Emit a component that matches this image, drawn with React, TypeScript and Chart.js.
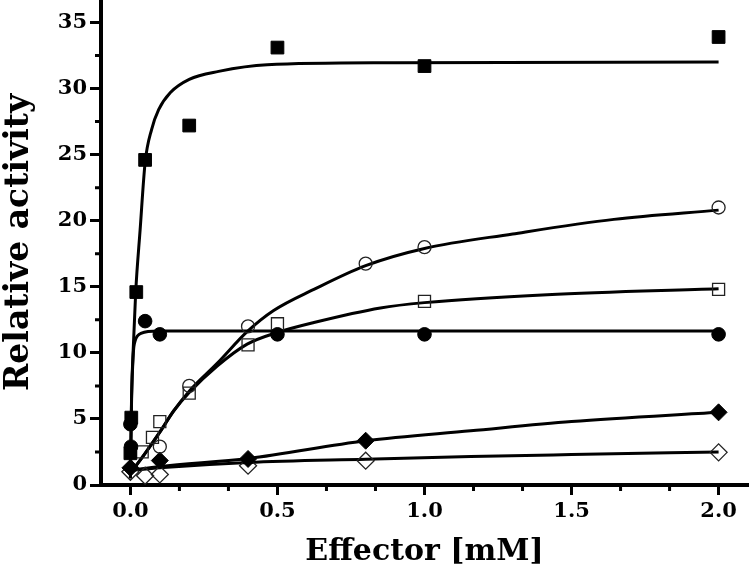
import React, { useEffect, useRef } from "react";
import { Chart, registerables } from "chart.js";

Chart.register(...registerables);

// ---- measured points ----
const sqFilledX = [0, 0.003, 0.02, 0.05, 0.2, 0.5, 1.0, 2.0];
const sqFilledY = [2.4, 5.1, 14.6, 24.6, 27.2, 33.1, 31.7, 33.9];

const circFilledX = [0, 0.002, 0.05, 0.1, 0.5, 1.0, 2.0];
const circFilledY = [4.6, 2.9, 12.4, 11.4, 11.4, 11.4, 11.4];

const circOpenX = [0.1, 0.2, 0.4, 0.8, 1.0, 2.0];
const circOpenY = [2.9, 7.5, 12.0, 16.75, 18.0, 21.0];

const sqOpenX = [0.04, 0.075, 0.1, 0.2, 0.4, 0.5, 1.0, 2.0];
const sqOpenY = [2.5, 3.6, 4.8, 6.95, 10.6, 12.2, 13.9, 14.8];

const diaFilledX = [0, 0.1, 0.4, 0.8, 2.0];
const diaFilledY = [1.3, 1.85, 1.97, 3.35, 5.5];

const diaOpenX = [0, 0.05, 0.1, 0.4, 0.8, 2.0];
const diaOpenY = [1.0, 0.7, 0.8, 1.46, 1.84, 2.47];

// ---- fitted curves ----
const fitSqFilledX = [0, 0.004, 0.01, 0.018, 0.033, 0.05, 0.072, 0.096, 0.136, 0.2, 0.3, 0.465, 0.9, 2.0];
const fitSqFilledY = [0.5, 6.75, 10.5, 14.6, 19.3, 24.4, 26.9, 28.4, 29.7, 30.7, 31.3, 31.8, 31.95, 32.0];

const fitCircFilledX = [0, 0.004, 0.01, 0.016, 0.025, 0.038, 0.06, 0.1, 2.0];
const fitCircFilledY = [0.5, 6.5, 10.0, 10.9, 11.3, 11.5, 11.62, 11.66, 11.66];

const fitCircOpenX = [0, 0.05, 0.1, 0.147, 0.2, 0.295, 0.397, 0.487, 0.624, 0.8, 1.0, 1.3, 1.644, 2.0];
const fitCircOpenY = [0.9, 2.4, 4.0, 5.6, 7.1, 9.2, 11.6, 13.2, 14.8, 16.6, 17.9, 19.0, 20.1, 20.8];

const fitSqOpenX = [0, 0.05, 0.1, 0.147, 0.2, 0.295, 0.397, 0.5, 0.624, 0.85, 1.0, 1.417, 2.0];
const fitSqOpenY = [0.9, 2.4, 4.0, 5.6, 7.0, 9.0, 10.66, 11.55, 12.3, 13.4, 13.8, 14.4, 14.85];

const fitDiaFilledX = [0, 0.1, 0.4, 0.8, 1.157, 1.5, 2.0];
const fitDiaFilledY = [1.1, 1.4, 2.0, 3.35, 4.1, 4.8, 5.5];

const fitDiaOpenX = [0, 0.1, 0.4, 0.8, 1.157, 1.5, 2.0];
const fitDiaOpenY = [1.1, 1.3, 1.7, 1.95, 2.15, 2.3, 2.5];

// ---- axes ----
const xTicks = [0, 0.5, 1.0, 1.5, 2.0];
const xMinorTicks = [1 / 6, 2 / 6, 4 / 6, 5 / 6, 7 / 6, 8 / 6, 10 / 6, 11 / 6];
const yTicks = [0, 5, 10, 15, 20, 25, 30, 35];
const yMinorTicks = [2.5, 7.5, 12.5, 17.5, 22.5, 27.5, 32.5];

const xTitle = "Effector [mM]";
const yTitle = "Relative activity";

const zip = (xs: number[], ys: number[]) => xs.map((x, i) => ({ x, y: ys[i] }));

const minorTicksPlugin = {
  id: "minorTicks",
  afterDraw(chart: any) {
    const { ctx, chartArea, scales } = chart;
    ctx.save();
    ctx.strokeStyle = "#000";
    ctx.lineWidth = 3;
    ctx.beginPath();
    for (const v of xMinorTicks) {
      const px = scales.x.getPixelForValue(v);
      ctx.moveTo(px, chartArea.bottom);
      ctx.lineTo(px, chartArea.bottom + 6);
    }
    for (const v of yMinorTicks) {
      const py = scales.y.getPixelForValue(v);
      ctx.moveTo(chartArea.left, py);
      ctx.lineTo(chartArea.left - 6, py);
    }
    ctx.stroke();
    ctx.restore();
  },
};

export default function App() {
  const ref = useRef<HTMLCanvasElement>(null);

  useEffect(() => {
    if (!ref.current) return;
    const marker = (data: any[], style: string, radius: number, filled: boolean) => ({
      data,
      showLine: false,
      pointStyle: style,
      pointRadius: radius,
      pointBackgroundColor: filled ? "#000" : "rgba(0,0,0,0)",
      pointBorderColor: filled ? "#000" : "#222",
      pointBorderWidth: filled ? 1 : 1.3,
    });
    const curve = (data: any[]) => ({
      data,
      showLine: true,
      pointRadius: 0,
      borderColor: "#000",
      borderWidth: 3,
      cubicInterpolationMode: "monotone",
      fill: false,
    });

    const chart = new Chart(ref.current, {
      type: "scatter",
      data: {
        datasets: [
          marker(zip(sqFilledX, sqFilledY), "rect", 9, true),
          marker(zip(circFilledX, circFilledY), "circle", 6.8, true),
          marker(zip(circOpenX, circOpenY), "circle", 6.5, false),
          marker(zip(sqOpenX, sqOpenY), "rect", 8.5, false),
          marker(zip(diaFilledX, diaFilledY), "rectRot", 8.5, true),
          marker(zip(diaOpenX, diaOpenY), "rectRot", 8.5, false),
          curve(zip(fitSqFilledX, fitSqFilledY)),
          curve(zip(fitCircFilledX, fitCircFilledY)),
          curve(zip(fitCircOpenX, fitCircOpenY)),
          curve(zip(fitSqOpenX, fitSqOpenY)),
          curve(zip(fitDiaFilledX, fitDiaFilledY)),
          curve(zip(fitDiaOpenX, fitDiaOpenY)),
        ] as any,
      },
      options: {
        responsive: false,
        devicePixelRatio: 1,
        animation: false,
        layout: { autoPadding: false, padding: { left: 0, right: 2, top: 0, bottom: 0 } },
        plugins: { legend: { display: false }, tooltip: { enabled: false } },
        scales: {
          x: {
            type: "linear",
            min: -0.1,
            max: 2.1,
            afterBuildTicks: (s: any) => {
              s.ticks = xTicks.map((v) => ({ value: v }));
            },
            afterFit: (s: any) => {
              s.height = 89;
              s.paddingLeft = 0;
              s.paddingRight = 0;
            },
            grid: {
              drawOnChartArea: false,
              drawTicks: true,
              tickLength: 10,
              tickWidth: 3,
              tickColor: "#000",
            },
            border: { display: true, width: 4, color: "#000" },
            ticks: {
              color: "#000",
              padding: 4,
              maxRotation: 0,
              autoSkip: false,
              font: { family: "DejaVu Serif", size: 21, weight: "bold" },
              callback: (v: any) => Number(v).toFixed(1),
            },
            title: {
              display: true,
              text: xTitle,
              color: "#000",
              font: { family: "DejaVu Serif", size: 30, weight: "bold" },
              padding: { top: 0, bottom: 4 },
            },
          },
          y: {
            type: "linear",
            min: 0,
            max: 36.7,
            afterBuildTicks: (s: any) => {
              s.ticks = yTicks.map((v) => ({ value: v }));
            },
            afterFit: (s: any) => {
              s.width = 101;
              s.paddingTop = 0;
              s.paddingBottom = 0;
            },
            grid: {
              drawOnChartArea: false,
              drawTicks: true,
              tickLength: 11,
              tickWidth: 3,
              tickColor: "#000",
            },
            border: { display: true, width: 4, color: "#000" },
            ticks: {
              color: "#000",
              padding: 3,
              autoSkip: false,
              font: { family: "DejaVu Serif", size: 21, weight: "bold" },
              callback: (v: any) => String(v),
            },
            title: {
              display: true,
              text: yTitle,
              color: "#000",
              font: { family: "DejaVu Serif", size: 33, weight: "bold" },
              padding: { top: 0, bottom: 0 },
            },
          },
        },
      },
      plugins: [minorTicksPlugin],
    });
    return () => chart.destroy();
  }, []);

  return (
    <canvas
      ref={ref}
      width={750}
      height={574}
      style={{ position: "absolute", left: 0, top: 0, width: 750, height: 574 }}
    />
  );
}
